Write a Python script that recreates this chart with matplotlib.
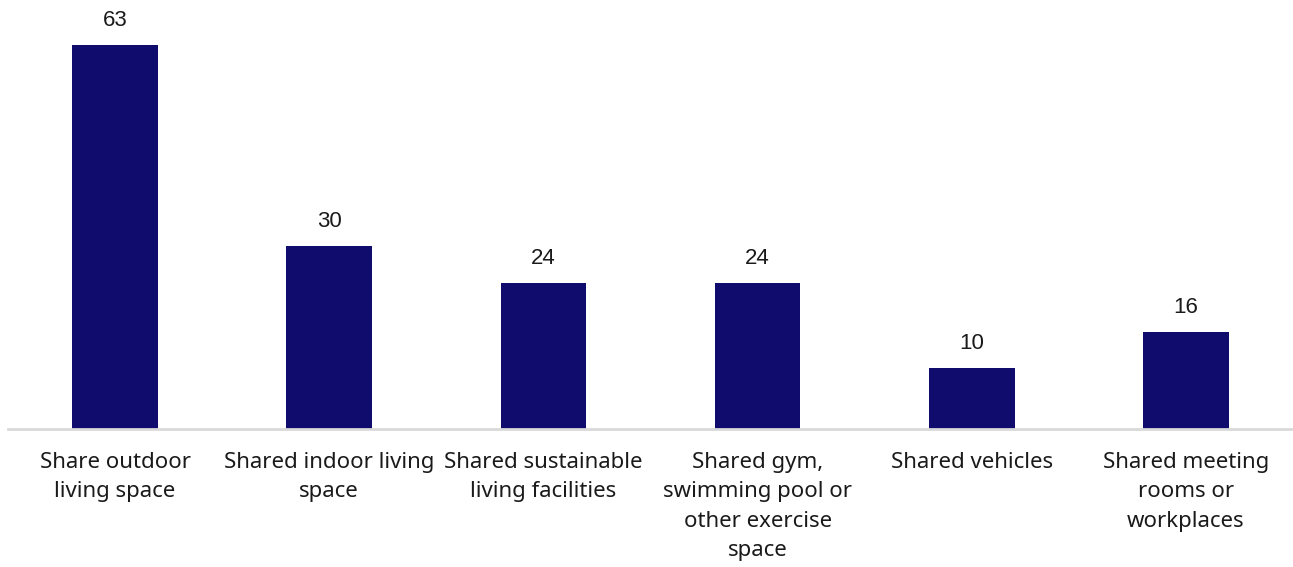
import matplotlib
matplotlib.use("Agg")
import matplotlib.pyplot as plt

categories = [
    "Share outdoor\nliving space",
    "Shared indoor living\nspace",
    "Shared sustainable\nliving facilities",
    "Shared gym,\nswimming pool or\nother exercise\nspace",
    "Shared vehicles",
    "Shared meeting\nrooms or\nworkplaces",
]
values = [63, 30, 24, 24, 10, 16]

bar_color = "#0f0c6e"
axis_color = "#d9d9d9"
text_color = "#1a1a1a"

fig = plt.figure(figsize=(12.93, 5.67), dpi=100)
ax = fig.add_axes([8 / 1293, 138 / 567, 1285 / 1293, 429 / 567])

x = list(range(len(values)))
bars = ax.bar(x, values, width=0.4, color=bar_color, zorder=2)

ax.set_xlim(-0.5, len(values) - 0.5)
ax.set_ylim(0, 70.4)

for xi, v in zip(x, values):
    ax.annotate(str(v), (xi, v), xytext=(0, 10), textcoords="offset points",
                ha="center", va="bottom", fontsize=16,
                family="Liberation Sans", color=text_color)

for side in ("top", "right", "left"):
    ax.spines[side].set_visible(False)
ax.spines["bottom"].set_color(axis_color)
ax.spines["bottom"].set_linewidth(2)
ax.set_yticks([])
ax.set_xticks(x)
ax.set_xticklabels(categories, fontsize=16, family="Noto Sans",
                   color=text_color, linespacing=1.53)
ax.tick_params(axis="x", length=0, pad=16.5)

fig.savefig("out.png", dpi=100)
